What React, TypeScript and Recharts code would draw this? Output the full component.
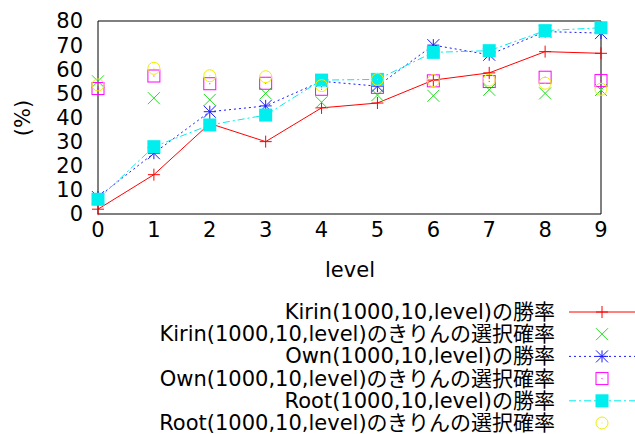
import { LineChart, Line, XAxis, YAxis } from 'recharts';

const levels = [0, 1, 2, 3, 4, 5, 6, 7, 8, 9];
const kirinWin = [2, 16.3, 37.5, 30, 44, 46, 55.5, 58.5, 67.3, 66.6];
const kirinSel = [55, 48, 47.3, 50, 46.3, 49.3, 49, 51.5, 50, 51.4];
const ownWin = [7, 25.2, 42.4, 44.8, 55, 53, 70, 66, 75.6, 75];
const ownSel = [52, 57.2, 54, 54.2, 51.7, 52.5, 55.2, 54.9, 56.7, 55.3];
const rootWin = [6.1, 27.9, 36.9, 41, 55.5, 55.8, 67, 67.7, 76, 77.2];
const rootSel = [53.5, 60.4, 57.3, 56.9, 53.2, 55.8, 55.3, 55.5, 54.2, 51.7];
const yTicks = [0, 10, 20, 30, 40, 50, 60, 70, 80];
const legendLabels = [
    'Kirin(1000,10,level)の勝率',
    'Kirin(1000,10,level)のきりんの選択確率',
    'Own(1000,10,level)の勝率',
    'Own(1000,10,level)のきりんの選択確率',
    'Root(1000,10,level)の勝率',
    'Root(1000,10,level)のきりんの選択確率',
];

const FONT = '"DejaVu Sans", "Noto Sans CJK JP", sans-serif';
const FS = 21;

const RED = '#ff0000';
const GREEN = '#22dd22';
const BLUE = '#1a1aff';
const MAGENTA = '#ff00ff';
const CYAN = '#00eeee';
const YELLOW = '#eeee00';

const data = levels.map((level, i) => ({
    level,
    kirinWin: kirinWin[i],
    kirinSel: kirinSel[i],
    ownWin: ownWin[i],
    ownSel: ownSel[i],
    rootWin: rootWin[i],
    rootSel: rootSel[i],
}));

type Mark = (cx: number, cy: number, key?: string | number) => JSX.Element;
const S = 6;

const plus: Mark = (cx, cy, key) => (
    <g key={key}>
        <line x1={cx - S} y1={cy} x2={cx + S} y2={cy} stroke={RED} />
        <line x1={cx} y1={cy - S} x2={cx} y2={cy + S} stroke={RED} />
    </g>
);
const cross: Mark = (cx, cy, key) => (
    <g key={key}>
        <line x1={cx - S} y1={cy - S} x2={cx + S} y2={cy + S} stroke={GREEN} />
        <line x1={cx - S} y1={cy + S} x2={cx + S} y2={cy - S} stroke={GREEN} />
    </g>
);
const star: Mark = (cx, cy, key) => (
    <g key={key}>
        <line x1={cx - S} y1={cy} x2={cx + S} y2={cy} stroke={BLUE} />
        <line x1={cx} y1={cy - S} x2={cx} y2={cy + S} stroke={BLUE} />
        <line x1={cx - S} y1={cy - S} x2={cx + S} y2={cy + S} stroke={BLUE} />
        <line x1={cx - S} y1={cy + S} x2={cx + S} y2={cy - S} stroke={BLUE} />
    </g>
);
const openSquare: Mark = (cx, cy, key) => (
    <g key={key}>
        <rect x={cx - S} y={cy - S} width={2 * S} height={2 * S} fill="none" stroke={MAGENTA} />
        <rect x={cx - 0.5} y={cy - 0.5} width={1} height={1} fill={MAGENTA} />
    </g>
);
const filledSquare: Mark = (cx, cy, key) => (
    <rect key={key} x={cx - S - 0.5} y={cy - S - 0.5} width={2 * S + 1} height={2 * S + 1} fill={CYAN} />
);
const circle: Mark = (cx, cy, key) => (
    <g key={key}>
        <circle cx={cx} cy={cy} r={S} fill="none" stroke={YELLOW} />
        <rect x={cx - 0.5} y={cy - 0.5} width={1} height={1} fill={YELLOW} />
    </g>
);

const dotOf = (m: Mark) => (p: any) => m(p.cx, p.cy, p.key ?? p.index);

const legendStyles = [
    { mark: plus, stroke: RED, dash: undefined },
    { mark: cross, stroke: 'none', dash: undefined },
    { mark: star, stroke: BLUE, dash: '2 3' },
    { mark: openSquare, stroke: 'none', dash: undefined },
    { mark: filledSquare, stroke: CYAN, dash: '7 3 2 3' },
    { mark: circle, stroke: 'none', dash: undefined },
];

const mirrorX = {
    type: 'number' as const,
    domain: [0, 9],
    allowDataOverflow: true,
    ticks: levels,
    interval: 0,
    mirror: true,
    height: 1,
    tick: false,
    tickSize: 6,
    tickLine: { stroke: '#000' },
};
const mirrorY = {
    type: 'number' as const,
    domain: [0, 80],
    allowDataOverflow: true,
    ticks: yTicks,
    interval: 0,
    mirror: true,
    width: 1,
    tick: false,
    tickSize: 6,
    tickLine: { stroke: '#000' },
};

export default function App() {
    const tick = { fill: '#000', fontSize: FS, fontFamily: FONT };
    return (
        <div style={{ position: 'absolute', left: 0, top: 0, width: 635, height: 434, background: '#fff' }}>
            <LineChart
                width={635}
                height={434}
                data={data}
                margin={{ top: 21, right: 34, left: 0, bottom: 190 }}
            >
                <XAxis
                    xAxisId="b"
                    dataKey="level"
                    type="number"
                    domain={[0, 9]}
                    ticks={levels}
                    interval={0}
                    height={30}
                    tickLine={false}
                    tickSize={0}
                    tickMargin={8}
                    axisLine={{ stroke: '#000' }}
                    tick={tick}
                />
                <XAxis xAxisId="bm" dataKey="level" orientation="bottom" axisLine={false} {...mirrorX} />
                <XAxis xAxisId="t" dataKey="level" orientation="top" axisLine={{ stroke: '#000' }} {...mirrorX} />
                <YAxis
                    yAxisId="l"
                    type="number"
                    domain={[0, 80]}
                    ticks={yTicks}
                    interval={0}
                    width={98}
                    tickLine={false}
                    tickSize={0}
                    tickMargin={15}
                    axisLine={{ stroke: '#000' }}
                    tick={tick}
                />
                <YAxis yAxisId="lm" orientation="left" axisLine={false} {...mirrorY} />
                <YAxis yAxisId="r" orientation="right" axisLine={{ stroke: '#000' }} {...mirrorY} />
                <Line xAxisId="bm" yAxisId="lm" dataKey="kirinWin" stroke="none" dot={false} activeDot={false} legendType="none" isAnimationActive={false} />
                <Line xAxisId="t" yAxisId="r" dataKey="kirinWin" stroke="none" dot={false} activeDot={false} legendType="none" isAnimationActive={false} />
                <Line xAxisId="b" yAxisId="l" dataKey="kirinWin" stroke={RED} strokeWidth={1} dot={dotOf(plus)} activeDot={false} isAnimationActive={false} />
                <Line xAxisId="b" yAxisId="l" dataKey="kirinSel" stroke="none" dot={dotOf(cross)} activeDot={false} isAnimationActive={false} />
                <Line xAxisId="b" yAxisId="l" dataKey="ownWin" stroke={BLUE} strokeWidth={1} strokeDasharray="2 3" dot={dotOf(star)} activeDot={false} isAnimationActive={false} />
                <Line xAxisId="b" yAxisId="l" dataKey="ownSel" stroke="none" dot={dotOf(openSquare)} activeDot={false} isAnimationActive={false} />
                <Line xAxisId="b" yAxisId="l" dataKey="rootWin" stroke={CYAN} strokeWidth={1} strokeDasharray="7 3 2 3" dot={dotOf(filledSquare)} activeDot={false} isAnimationActive={false} />
                <Line xAxisId="b" yAxisId="l" dataKey="rootSel" stroke="none" dot={dotOf(circle)} activeDot={false} isAnimationActive={false} />
            </LineChart>
            <svg
                width={635}
                height={434}
                style={{ position: 'absolute', left: 0, top: 0, pointerEvents: 'none' }}
                fontFamily={FONT}
                fontSize={FS}
            >
                <text x={23} y={118} transform="rotate(-90 23 118)" textAnchor="middle" dominantBaseline="central">
                    (%)
                </text>
                <text x={350} y={277} textAnchor="middle">
                    level
                </text>
                {legendLabels.map((label, i) => {
                    const y = 312 + i * 22.2;
                    const st = legendStyles[i];
                    return (
                        <g key={label}>
                            <text x={555} y={y} textAnchor="end" dominantBaseline="central">
                                {label}
                            </text>
                            {st.stroke !== 'none' && (
                                <line x1={569} y1={y} x2={635} y2={y} stroke={st.stroke} strokeDasharray={st.dash} />
                            )}
                            {st.mark(602, y)}
                        </g>
                    );
                })}
            </svg>
        </div>
    );
}
